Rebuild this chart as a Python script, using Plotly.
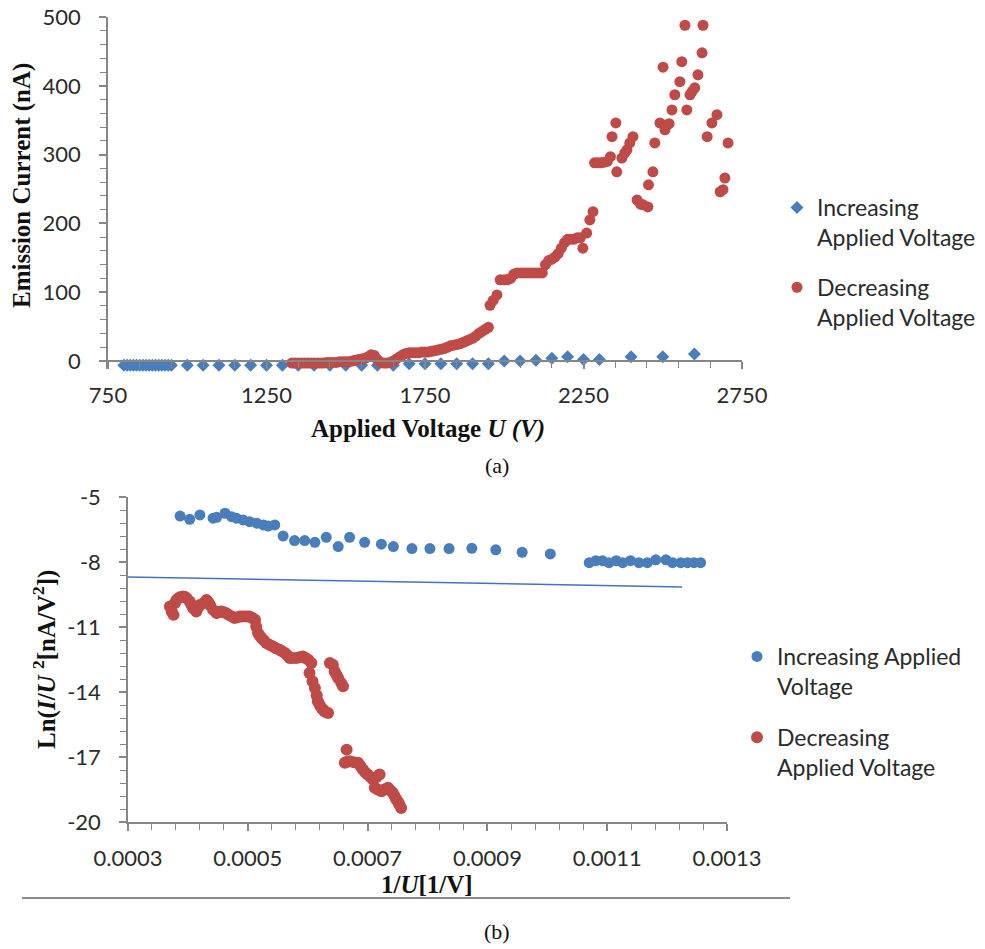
import plotly.graph_objects as go

# ---------------- (a) Emission current vs applied voltage ----------------
inc_U = [800, 810, 820, 830, 840, 850, 860, 870, 880, 890, 900, 910, 920, 930, 940, 950,
         1000, 1050, 1100, 1150, 1200, 1250, 1300, 1350, 1400, 1450, 1500, 1550, 1600, 1650,
         1700, 1750, 1800, 1850, 1900, 1950, 2000, 2050, 2100, 2150, 2200, 2250, 2300,
         2400, 2500, 2600]
inc_I = [-6, -6, -6, -6, -6, -6, -6, -6, -6, -6, -6, -6, -6, -6, -6, -6,
         -6, -6, -6, -6, -6, -6, -6, -6, -6, -6, -6, -6, -6, -6,
         -4, -4, -4, -4, -4, -4, 0, 0, 1, 4, 6, 2, 2,
         6, 6, 10]

dec_U = [1330, 1340, 1350, 1360, 1370, 1380, 1390, 1400, 1410, 1420, 1430, 1440, 1450, 1460,
         1470, 1480, 1490, 1500, 1510, 1520, 1530, 1540, 1550, 1560, 1570, 1580, 1590, 1600,
         1610, 1620, 1630, 1640, 1650, 1660, 1670, 1680, 1690, 1700, 1710, 1720, 1730, 1740,
         1750, 1760, 1770, 1780, 1790, 1800, 1810, 1820, 1830, 1840, 1850, 1860, 1870, 1880,
         1890, 1900, 1910, 1920, 1930, 1940, 1950, 1955, 1965, 1977, 1987, 2000, 2010, 2020,
         2030, 2040, 2050, 2060, 2070, 2080, 2090, 2100, 2110, 2120, 2130, 2140, 2150, 2160,
         2170, 2180, 2190, 2200, 2210, 2220, 2230, 2240, 2248, 2260, 2270, 2280, 2285, 2295,
         2305, 2315, 2325, 2335, 2340, 2352, 2355, 2371, 2380, 2387, 2396, 2406, 2419, 2430,
         2438, 2453, 2455, 2469, 2475, 2491, 2501, 2507, 2513, 2520, 2529, 2538, 2554, 2560,
         2570, 2576, 2586, 2593, 2601, 2611, 2624, 2627, 2640, 2655, 2671, 2681, 2690, 2696,
         2706]
dec_I = [-3, -3, -3, -3, -3, -3, -3, -3, -3, -3, -3, -2, -2, -2,
         -2, -1, -1, -1, -1, 0, 1, 2, 3, 4, 6, 9, 8, 2,
         -2, -3, -3, -2, 0, 3, 6, 9, 11, 12, 12, 12, 12, 13,
         13, 13, 14, 15, 16, 17, 18, 20, 22, 23, 24, 25, 27, 29,
         31, 33, 36, 40, 43, 46, 49, 81, 88, 96, 118, 118, 118, 120,
         126, 128, 128, 128, 128, 128, 128, 128, 128, 128, 140, 146, 148, 151,
         156, 164, 172, 177, 177, 177, 179, 179, 164, 186, 205, 217, 288, 288,
         288, 289, 290, 297, 326, 346, 275, 295, 302, 307, 317, 326, 234, 228,
         227, 224, 256, 275, 317, 346, 427, 336, 343, 345, 365, 387, 406, 435,
         488, 365, 387, 392, 397, 416, 448, 488, 326, 346, 358, 246, 249, 266,
         317]

a_x_ticks = [750, 1250, 1750, 2250, 2750]
a_y_ticks = [0, 100, 200, 300, 400, 500]

# ---------------- (b) Fowler-Nordheim style plot ----------------
fn_inc_x = [0.000387, 0.000403, 0.000420, 0.000442, 0.000448, 0.000462, 0.000473, 0.000481,
            0.000492, 0.000503, 0.000515, 0.000526, 0.000534, 0.000545, 0.000559, 0.000578,
            0.000595, 0.000612, 0.000631, 0.000651, 0.000670, 0.000695, 0.000723, 0.000743,
            0.000774, 0.000804, 0.000836, 0.000874, 0.000914, 0.000958, 0.001005,
            0.001070, 0.001081, 0.001092, 0.001103, 0.001115, 0.001126, 0.001139, 0.001153,
            0.001167, 0.001181, 0.001198, 0.001209, 0.001223, 0.001234, 0.001245, 0.001256]
fn_inc_y = [-5.88, -6.03, -5.83, -5.98, -5.94, -5.75, -5.91, -5.98,
            -6.06, -6.14, -6.21, -6.29, -6.34, -6.29, -6.80, -7.01,
            -7.01, -7.09, -6.86, -7.29, -6.86, -7.09, -7.18, -7.29,
            -7.38, -7.38, -7.38, -7.37, -7.44, -7.55, -7.63,
            -8.03, -7.94, -7.94, -8.03, -7.94, -8.03, -7.94, -8.03,
            -8.03, -7.90, -7.90, -8.03, -8.03, -8.03, -8.03, -8.03]

fn_dec_x = [0.000370, 0.000373, 0.000376, 0.000378, 0.000381, 0.000384, 0.000388, 0.000392,
            0.000395, 0.000398, 0.000403, 0.000406, 0.000409, 0.000414, 0.000417, 0.000420,
            0.000426, 0.000431, 0.000434, 0.000437, 0.000442, 0.000448, 0.000452, 0.000456,
            0.000460, 0.000464, 0.000468, 0.000473, 0.000478, 0.000483, 0.000487, 0.000491,
            0.000495, 0.000499, 0.000503, 0.000508, 0.000512, 0.000514, 0.000517, 0.000520,
            0.000523, 0.000527, 0.000531, 0.000536, 0.000542, 0.000547, 0.000553, 0.000557,
            0.000562, 0.000566, 0.000570, 0.000575, 0.000581, 0.000586, 0.000592, 0.000597,
            0.000601, 0.000606, 0.000603, 0.000608, 0.000612, 0.000615, 0.000617, 0.000620,
            0.000623, 0.000626, 0.000628, 0.000631, 0.000634, 0.000637, 0.000642, 0.000645,
            0.000648, 0.000651, 0.000656, 0.000659, 0.000665, 0.000662, 0.000666, 0.000670,
            0.000677, 0.000684, 0.000688, 0.000692, 0.000696, 0.000700, 0.000705, 0.000709,
            0.000715, 0.000720, 0.000712, 0.000717, 0.000723, 0.000728, 0.000734, 0.000738,
            0.000742, 0.000745, 0.000748, 0.000751, 0.000753, 0.000756]
fn_dec_y = [-10.05, -10.28, -10.44, -9.90, -9.75, -9.67, -9.62, -9.59,
            -9.62, -9.67, -9.82, -9.98, -10.13, -10.28, -10.10, -9.98,
            -9.90, -9.75, -9.85, -9.98, -10.21, -10.36, -10.30, -10.28,
            -10.32, -10.36, -10.44, -10.51, -10.59, -10.55, -10.51, -10.51,
            -10.51, -10.51, -10.51, -10.60, -10.67, -10.98, -11.28, -11.40,
            -11.51, -11.62, -11.74, -11.82, -11.90, -11.98, -12.05, -12.12,
            -12.20, -12.30, -12.43, -12.43, -12.43, -12.40, -12.36, -12.44,
            -12.51, -12.66, -13.12, -13.50, -13.82, -14.15, -14.43, -14.60,
            -14.74, -14.82, -14.89, -14.93, -14.97, -12.66, -12.74, -13.05,
            -13.20, -13.36, -13.59, -13.74, -16.66, -17.27, -17.22, -17.20,
            -17.24, -17.27, -17.42, -17.58, -17.70, -17.81, -17.92, -18.04,
            -17.92, -17.81, -18.42, -18.50, -18.58, -18.50, -18.42, -18.55,
            -18.65, -18.80, -18.96, -19.08, -19.19, -19.35]

trend_x = [0.0003, 0.001225]
trend_y = [-8.69, -9.15]

b_x_ticks = [0.0003, 0.0005, 0.0007, 0.0009, 0.0011, 0.0013]
b_x_labels = ["0.0003", "0.0005", "0.0007", "0.0009", "0.0011", "0.0013"]
b_y_ticks = [-20, -17, -14, -11, -8, -5]
b_y_labels = ["-20", "-17", "-14", "-11", "-8", "-5"]

BLUE = "#4A7EBB"
RED = "#BE4B48"
AXIS = "#868686"
TXT = "#2b2b2b"
TICKFONT = dict(family="Lato, Open Sans, sans-serif", size=22, color=TXT)
LEGFONT = dict(family="Lato, Open Sans, sans-serif", size=23, color=TXT)
TITLEFONT = dict(family="Liberation Serif, Times New Roman, serif", size=25, color="#111111")

W, H = 985, 949
def px(x):
    return x / W
def py(y):
    return 1 - y / H

fig = go.Figure()

fig.add_trace(go.Scatter(x=inc_U, y=inc_I, mode="markers", name="Increasing<br>Applied Voltage",
                         marker=dict(symbol="diamond", size=10, color=BLUE),
                         xaxis="x", yaxis="y", legend="legend", legendgroup="a", cliponaxis=False))
fig.add_trace(go.Scatter(x=dec_U, y=dec_I, mode="markers", name="Decreasing<br>Applied Voltage",
                         marker=dict(symbol="circle", size=11, color=RED),
                         xaxis="x", yaxis="y", legend="legend", legendgroup="b", cliponaxis=False))
fig.add_trace(go.Scatter(x=fn_inc_x, y=fn_inc_y, mode="markers", name="Increasing Applied<br>Voltage",
                         marker=dict(symbol="circle", size=11, color=BLUE),
                         xaxis="x2", yaxis="y2", legend="legend2", legendgroup="c", cliponaxis=False))
fig.add_trace(go.Scatter(x=fn_dec_x, y=fn_dec_y, mode="markers", name="Decreasing<br>Applied Voltage",
                         marker=dict(symbol="circle", size=12, color=RED),
                         xaxis="x2", yaxis="y2", legend="legend2", legendgroup="d", cliponaxis=False))
fig.add_trace(go.Scatter(x=trend_x, y=trend_y, mode="lines", showlegend=False,
                         line=dict(color="#4472C4", width=1.5), xaxis="x2", yaxis="y2"))

def main_axis(rng, tickvals, ticktext, tick0, mdtick, domain, anchor, standoff, position=None):
    d = dict(range=rng, domain=domain, anchor=anchor, tickmode="array", tickvals=tickvals,
             ticktext=ticktext,
             showgrid=False, zeroline=False, showline=True, linecolor=AXIS, linewidth=1.5,
             ticks="outside", ticklen=7, tickcolor=AXIS, tickwidth=1.5,
             minor=dict(dtick=mdtick, tick0=tick0, ticks="outside", ticklen=6,
                        tickcolor=AXIS, tickwidth=1.2, showgrid=False),
             tickfont=TICKFONT, ticklabelstandoff=standoff, fixedrange=True)
    if position is not None:
        d["anchor"] = "free"
        d["position"] = position
    return d

def cross_axis(rng, tickvals, domain, anchor, overlay, position=None):
    d = dict(range=rng, domain=domain, anchor=anchor, overlaying=overlay,
             tickmode="array", tickvals=tickvals,
             showgrid=False, zeroline=False, showline=False,
             ticks="inside", ticklen=7, tickcolor=AXIS, tickwidth=1.5,
             showticklabels=False, fixedrange=True)
    if position is not None:
        d["anchor"] = "free"
        d["position"] = position
    return d

# top panel: value 0 sits at pixel 361, 500 at pixel 17 -> range extends slightly below 0
A_YMIN = -12
a_scale = (361 - 17) / 500.0
xd1 = [px(108), px(742)]
yd1 = [py(361 - A_YMIN * a_scale), py(17)]
xd2 = [px(128), px(727)]
yd2 = [py(822), py(497)]

fig.update_layout(
    width=W, height=H, margin=dict(l=0, r=0, t=0, b=0, autoexpand=False),
    paper_bgcolor="white", plot_bgcolor="white",
    xaxis=main_axis([750, 2750], a_x_ticks, [str(v) for v in a_x_ticks], 750, 100, xd1, "y", 8,
                    position=py(361)),
    yaxis=main_axis([A_YMIN, 500], a_y_ticks, [str(v) for v in a_y_ticks], 0, 20, yd1, "x", 14),
    xaxis2=main_axis([0.0003, 0.0013], b_x_ticks, b_x_labels, 0.0003, 0.00004, xd2, "y2", 9),
    yaxis2=main_axis([-20, -5], b_y_ticks, b_y_labels, -20, 0.6, yd2, "x2", 14),
    xaxis3=cross_axis([750, 2750], a_x_ticks, xd1, "y", "x", position=py(361)),
    yaxis3=cross_axis([A_YMIN, 500], a_y_ticks, yd1, "x", "y"),
    xaxis4=cross_axis([0.0003, 0.0013], b_x_ticks, xd2, "y2", "x2"),
    yaxis4=cross_axis([-20, -5], b_y_ticks, yd2, "x2", "y2"),
    legend=dict(x=px(777), y=py(186), xanchor="left", yanchor="top", font=LEGFONT,
                bgcolor="rgba(0,0,0,0)", valign="top", tracegroupgap=17, itemclick=False),
    legend2=dict(x=px(737), y=py(635), xanchor="left", yanchor="top", font=LEGFONT,
                 bgcolor="rgba(0,0,0,0)", valign="top", tracegroupgap=18, itemclick=False),
    showlegend=True,
)

annotations = [
    dict(text="<b>Emission Current (nA)</b>", x=px(22), y=py(186), textangle=-90),
    dict(text="<b>Applied Voltage <i>U (V)</i></b>", x=px(428), y=py(429), textangle=0),
    dict(text="<b>Ln(<i>I</i>/<i>U</i> <sup>2</sup>[nA/V<sup>2</sup>])</b>", x=px(44), y=py(660), textangle=-90),
    dict(text="<b>1/<i>U</i>[1/V]</b>", x=px(427), y=py(884), textangle=0),
]
for a in annotations:
    fig.add_annotation(xref="paper", yref="paper", showarrow=False, font=TITLEFONT,
                       xanchor="center", yanchor="middle", **a)

cap_font = dict(family="Liberation Serif, Times New Roman, serif", size=22, color="#111111")
fig.add_annotation(text="(a)", x=px(497), y=py(465), xref="paper", yref="paper", showarrow=False,
                   font=cap_font, xanchor="center", yanchor="middle")
fig.add_annotation(text="(b)", x=px(497), y=py(931), xref="paper", yref="paper", showarrow=False,
                   font=cap_font, xanchor="center", yanchor="middle")

fig.add_shape(type="line", xref="paper", yref="paper", x0=px(22), x1=px(790), y0=py(898), y1=py(898),
              line=dict(color="#8a8a8a", width=2))

fig.write_html("out.html")
